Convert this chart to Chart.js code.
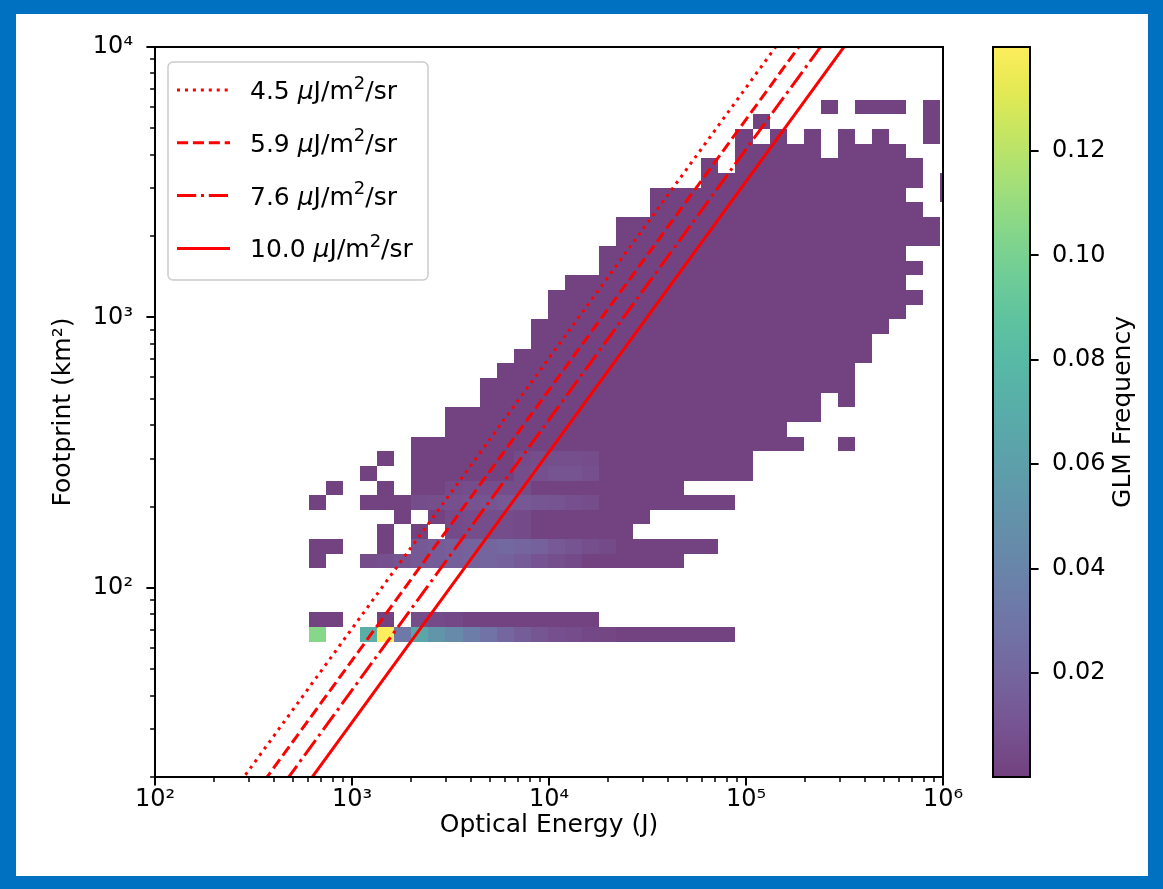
<!DOCTYPE html>
<html>
<head>
<meta charset="utf-8">
<title>GLM flash footprint vs optical energy</title>
<script src="https://cdn.jsdelivr.net/npm/chart.js@4.4.1/dist/chart.umd.min.js"></script>
<style>
  html, body { margin: 0; padding: 0; }
  body { width: 1163px; height: 889px; background: #0070c0; position: relative; overflow: hidden; }
  #panel { position: absolute; left: 16px; top: 14px; width: 1132px; height: 862px; background: #ffffff; }
  #wrap { position: absolute; left: 0; top: 0; width: 1163px; height: 889px; }
  canvas { display: block; }
</style>
</head>
<body>
<div id="panel"></div>
<div id="wrap"><canvas id="chart" width="1163" height="889"></canvas></div>
<script>
// ---- Histogram bins (log-spaced edges) ----
const energyEdges = [605, 738.5, 901.4, 1100, 1343, 1639, 2001, 2443, 2982, 3640, 4443, 5424,
  6621, 8082, 9865, 12042, 14699, 17943, 21903, 26736, 32636, 39838, 48630, 59360, 72461,
  88450, 107970, 131800, 160880, 196380, 239710, 292620, 357190, 436020, 532230, 649680,
  793050, 968050, 1181600];
const footprintEdges = [63.31, 71.72, 81.25, 92.04, 104.3, 118.1, 133.8, 151.6, 171.7, 194.5,
  220.3, 249.6, 282.7, 320.3, 362.8, 411.0, 465.6, 527.5, 597.5, 676.9, 766.8, 868.6, 984.0,
  1115, 1263, 1430, 1620, 1836, 2080, 2356, 2669, 3023, 3424, 3879, 4395, 4978, 5639, 6388];

// Occupied bins: [footprint row, first energy column, last energy column]
const occupiedRuns = [
  [0, 0, 0], [0, 3, 24],
  [1, 0, 1], [1, 4, 4], [1, 6, 16],
  [5, 0, 0], [5, 3, 21],
  [6, 0, 1], [6, 4, 4], [6, 6, 23],
  [7, 4, 4], [7, 6, 6], [7, 8, 18],
  [8, 5, 5], [8, 7, 19],
  [9, 0, 0], [9, 3, 24],
  [10, 1, 1], [10, 4, 4], [10, 6, 21],
  [11, 3, 3], [11, 6, 25],
  [12, 4, 4], [12, 6, 25],
  [13, 6, 28], [13, 31, 31],
  [14, 8, 27],
  [15, 8, 29],
  [16, 10, 29], [16, 31, 31],
  [17, 10, 31],
  [18, 11, 31],
  [19, 12, 32],
  [20, 13, 32],
  [21, 13, 33],
  [22, 14, 34],
  [23, 14, 35],
  [24, 15, 34],
  [25, 17, 35],
  [26, 17, 34],
  [27, 18, 36],
  [28, 18, 36],
  [29, 20, 35],
  [30, 20, 34], [30, 37, 37],
  [31, 23, 35], [31, 37, 37],
  [32, 23, 23], [32, 25, 35],
  [33, 25, 29], [33, 31, 34],
  [34, 25, 25], [34, 27, 27], [34, 29, 29], [34, 31, 31], [34, 33, 33], [34, 36, 36],
  [35, 26, 26], [35, 36, 36],
  [36, 30, 30], [36, 32, 34], [36, 36, 36]
];

// Typical frequency of an occupied bin
const baseFrequency = 0.001;

// Bins with higher frequency: [row, column, frequency]
const frequentBins = [
  [0, 0, 0.105], [0, 3, 0.072], [0, 4, 0.1399], [0, 5, 0.032], [0, 6, 0.066], [0, 7, 0.052],
  [0, 8, 0.043], [0, 9, 0.035], [0, 10, 0.028], [0, 11, 0.021], [0, 12, 0.015], [0, 13, 0.011],
  [0, 14, 0.008], [0, 15, 0.006], [0, 16, 0.004], [0, 17, 0.003],
  [1, 6, 0.006], [1, 7, 0.005], [1, 8, 0.004],
  [5, 3, 0.006], [5, 4, 0.008], [5, 5, 0.010], [5, 6, 0.012], [5, 7, 0.014], [5, 8, 0.016],
  [5, 9, 0.018], [5, 10, 0.020], [5, 11, 0.018], [5, 12, 0.014], [5, 13, 0.010], [5, 14, 0.007],
  [5, 15, 0.005],
  [6, 6, 0.012], [6, 7, 0.014], [6, 8, 0.016], [6, 9, 0.018], [6, 10, 0.020], [6, 11, 0.022],
  [6, 12, 0.020], [6, 13, 0.017], [6, 14, 0.013], [6, 15, 0.010], [6, 16, 0.007], [6, 17, 0.005],
  [7, 8, 0.005], [7, 9, 0.006], [7, 10, 0.006], [7, 11, 0.006], [7, 12, 0.005],
  [8, 8, 0.005], [8, 9, 0.006], [8, 10, 0.006], [8, 11, 0.006], [8, 12, 0.005],
  [9, 6, 0.006], [9, 7, 0.007], [9, 8, 0.008], [9, 9, 0.009], [9, 10, 0.010], [9, 11, 0.012],
  [9, 12, 0.012], [9, 13, 0.011], [9, 14, 0.010], [9, 15, 0.008], [9, 16, 0.006],
  [10, 8, 0.005], [10, 9, 0.006], [10, 10, 0.006], [10, 11, 0.006], [10, 12, 0.006],
  [11, 12, 0.006], [11, 13, 0.008], [11, 14, 0.010], [11, 15, 0.010], [11, 16, 0.008],
  [12, 12, 0.005], [12, 13, 0.006], [12, 14, 0.007], [12, 15, 0.007], [12, 16, 0.006]
];

// Colour-scale limits
const frequencyRange = [0.0001, 0.1399];

// Radiance reference lines (uJ/m^2/sr), E = pi * L * A
const radianceLevels = [4.5, 5.9, 7.6, 10.0];
const lineFootprints = [10, 20000];

// Axis ticks
const xMajorTicks = [1e2, 1e3, 1e4, 1e5, 1e6];
const xTickLabels = ['10\u00B2', '10\u00B3', '10\u2074', '10\u2075', '10\u2076'];
const yMajorTicks = [1e2, 1e3, 1e4];
const yTickLabels = ['10\u00B2', '10\u00B3', '10\u2074'];
const cbTickValues = [0.02, 0.04, 0.06, 0.08, 0.10, 0.12];
const cbTickLabels = ['0.02', '0.04', '0.06', '0.08', '0.10', '0.12'];

// ---- Styling ----
const FONT = "'DejaVu Sans', 'Liberation Sans', sans-serif";
const TICK_SIZE = 24;
const LABEL_SIZE = 25;
const CELL_ALPHA = 0.75;
const LINE_RED = '#ff0000';
const LINE_WIDTH = 3;
const lineDashes = [[3, 4.95], [11.1, 4.8], [19.2, 4.8, 3, 4.8], []];

const VIRIDIS = ['#440154', '#48186a', '#472d7b', '#424086', '#3b528b', '#33638d', '#2c728e',
  '#26828e', '#21918c', '#1fa088', '#28ae80', '#3fbc73', '#5ec962', '#84d44b', '#addc30',
  '#d8e219', '#fde725'];
const viridisRGB = VIRIDIS.map(h => [1, 3, 5].map(i => parseInt(h.slice(i, i + 2), 16)));

function viridis(t) {
  const n = viridisRGB.length - 1;
  const p = Math.min(Math.max(t, 0), 1) * n;
  const i = Math.min(Math.floor(p), n - 1);
  const f = p - i;
  return viridisRGB[i].map((c, j) => Math.round(c + (viridisRGB[i + 1][j] - c) * f));
}
function colourFor(v) {
  const t = (v - frequencyRange[0]) / (frequencyRange[1] - frequencyRange[0]);
  const [r, g, b] = viridis(t);
  return `rgba(${r},${g},${b},${CELL_ALPHA})`;
}

const freqLookup = new Map(frequentBins.map(([r, k, v]) => [r * 100 + k, v]));
function binFrequency(r, k) {
  return freqLookup.has(r * 100 + k) ? freqLookup.get(r * 100 + k) : baseFrequency;
}

function minorTicks(lo, hi) {
  const out = [];
  for (let e = Math.floor(Math.log10(lo)); e <= Math.ceil(Math.log10(hi)); e++) {
    for (let m = 1; m <= 9; m++) {
      const v = m * Math.pow(10, e);
      if (v >= lo * 0.9999 && v <= hi * 1.0001) out.push(v);
    }
  }
  return out;
}

// keep label overhang from pushing the plot area around
function fixedSize(prop, size) {
  return s => {
    s[prop] = size;
    s.paddingTop = 0; s.paddingBottom = 0; s.paddingLeft = 0; s.paddingRight = 0;
  };
}

// ---- Plugins ----
const heatmapPlugin = {
  id: 'heatmap',
  beforeDatasetsDraw(chart) {
    const { ctx, chartArea: a, scales: { x, y } } = chart;
    ctx.save();
    ctx.beginPath();
    ctx.rect(a.left, a.top, a.right - a.left, a.bottom - a.top);
    ctx.clip();
    for (const [r, k0, k1] of occupiedRuns) {
      const yTop = Math.round(y.getPixelForValue(footprintEdges[r + 1]));
      const yBot = Math.round(y.getPixelForValue(footprintEdges[r]));
      for (let k = k0; k <= k1; k++) {
        const xl = Math.round(x.getPixelForValue(energyEdges[k]));
        const xr = Math.round(x.getPixelForValue(energyEdges[k + 1]));
        ctx.fillStyle = colourFor(binFrequency(r, k));
        ctx.fillRect(xl, yTop, xr - xl, yBot - yTop);
      }
    }
    ctx.restore();
  }
};

const framePlugin = {
  id: 'frameAndColourbar',
  afterDatasetsDraw(chart) {
    const { ctx, chartArea: a, scales } = chart;
    ctx.save();
    ctx.strokeStyle = '#000';
    for (const t of scales.x.ticks) {
      const px = Math.round(scales.x.getPixelForValue(t.value));
      const major = xMajorTicks.includes(t.value);
      ctx.lineWidth = major ? 2 : 1.5;
      ctx.beginPath();
      ctx.moveTo(px, a.bottom);
      ctx.lineTo(px, a.bottom + (major ? 8.6 : 4.9));
      ctx.stroke();
    }
    for (const t of scales.y.ticks) {
      const py = Math.round(scales.y.getPixelForValue(t.value));
      const major = yMajorTicks.includes(t.value);
      ctx.lineWidth = major ? 2 : 1.5;
      ctx.beginPath();
      ctx.moveTo(a.left, py);
      ctx.lineTo(a.left - (major ? 8.6 : 4.9), py);
      ctx.stroke();
    }
    ctx.lineWidth = 2;
    ctx.strokeRect(a.left, a.top, a.right - a.left, a.bottom - a.top);

    // colour bar
    const cb = scales.cb;
    const cbLeft = a.right + 50, cbRight = a.right + 87;
    const grad = ctx.createLinearGradient(0, a.bottom, 0, a.top);
    viridisRGB.forEach((c, i) => {
      grad.addColorStop(i / (viridisRGB.length - 1), `rgba(${c[0]},${c[1]},${c[2]},${CELL_ALPHA})`);
    });
    ctx.fillStyle = grad;
    ctx.fillRect(cbLeft, a.top, cbRight - cbLeft, a.bottom - a.top);
    ctx.lineWidth = 2;
    ctx.strokeRect(cbLeft, a.top, cbRight - cbLeft, a.bottom - a.top);
    for (const t of cb.ticks) {
      const py = Math.round(cb.getPixelForValue(t.value));
      ctx.beginPath();
      ctx.moveTo(cbRight, py);
      ctx.lineTo(cbRight + 8.6, py);
      ctx.stroke();
    }
    ctx.fillStyle = '#000';
    ctx.font = `${LABEL_SIZE}px ${FONT}`;
    ctx.textAlign = 'center';
    ctx.textBaseline = 'middle';
    ctx.translate(a.right + 180, (a.top + a.bottom) / 2);
    ctx.rotate(-Math.PI / 2);
    ctx.fillText('GLM Frequency', 0, 0);
    ctx.restore();
  }
};

function drawRadianceLabel(ctx, x, yMid, value) {
  const s = LABEL_SIZE;
  const base = yMid + 0.36 * s;
  const normal = `${s}px ${FONT}`;
  const italic = `italic ${s}px ${FONT}`;
  const small = `${Math.round(s * 0.7)}px ${FONT}`;
  const parts = [
    [value.toFixed(1) + ' ', normal, 0],
    ['\u03BC', italic, 0],
    ['J/m', normal, 0],
    ['2', small, -0.42 * s],
    ['/sr', normal, 0]
  ];
  ctx.textBaseline = 'alphabetic';
  ctx.textAlign = 'left';
  let cx = x;
  for (const [txt, font, dy] of parts) {
    ctx.font = font;
    ctx.fillText(txt, cx, base + dy);
    cx += ctx.measureText(txt).width;
  }
}

const legendPlugin = {
  id: 'radianceLegend',
  afterDraw(chart) {
    const { ctx, chartArea: a } = chart;
    const bx = a.left + 13, by = a.top + 15, bw = 260, bh = 218;
    ctx.save();
    ctx.beginPath();
    ctx.roundRect(bx, by, bw, bh, 5);
    ctx.fillStyle = 'rgba(255,255,255,0.8)';
    ctx.fill();
    ctx.lineWidth = 1.5;
    ctx.strokeStyle = '#cccccc';
    ctx.stroke();
    radianceLevels.forEach((L, i) => {
      const yMid = by + 28 + i * 52.8;
      ctx.strokeStyle = LINE_RED;
      ctx.lineWidth = LINE_WIDTH;
      ctx.setLineDash(lineDashes[i]);
      ctx.lineCap = 'butt';
      ctx.beginPath();
      ctx.moveTo(bx + 9, yMid);
      ctx.lineTo(bx + 62, yMid);
      ctx.stroke();
      ctx.setLineDash([]);
      ctx.fillStyle = '#000';
      drawRadianceLabel(ctx, bx + 82, yMid, L);
    });
    ctx.restore();
  }
};

// ---- Chart ----
Chart.defaults.font.family = FONT;
Chart.defaults.font.size = TICK_SIZE;
Chart.defaults.color = '#000';

const datasets = radianceLevels.map((L, i) => ({
  label: L.toFixed(1) + ' \u03BCJ/m\u00B2/sr',
  data: lineFootprints.map(A => ({ x: Math.PI * L * A, y: A })),
  showLine: true,
  borderColor: LINE_RED,
  backgroundColor: LINE_RED,
  borderWidth: LINE_WIDTH,
  borderDash: lineDashes[i],
  borderCapStyle: 'butt',
  pointRadius: 0,
  pointHoverRadius: 0,
  tension: 0
}));

new Chart(document.getElementById('chart'), {
  type: 'scatter',
  data: { datasets },
  plugins: [heatmapPlugin, framePlugin, legendPlugin],
  options: {
    responsive: false,
    animation: false,
    devicePixelRatio: 1,
    layout: { padding: { left: 0, top: 47, right: 0, bottom: 0 } },
    plugins: { legend: { display: false }, tooltip: { enabled: false } },
    scales: {
      x: {
        type: 'logarithmic',
        position: 'bottom',
        min: 100, max: 1e6,
        grid: { display: false },
        border: { display: false },
        afterBuildTicks: s => { s.ticks = minorTicks(100, 1e6).map(v => ({ value: v })); },
        afterFit: fixedSize('height', 112),
        ticks: {
          autoSkip: false, maxRotation: 0, minRotation: 0, padding: 0,
          callback: v => { const i = xMajorTicks.indexOf(v); return i >= 0 ? xTickLabels[i] : ''; }
        },
        title: { display: true, text: 'Optical Energy (J)', font: { size: LABEL_SIZE }, padding: { top: 0, bottom: 49 } }
      },
      y: {
        type: 'logarithmic',
        position: 'left',
        min: 20, max: 1e4,
        grid: { display: false },
        border: { display: false },
        afterBuildTicks: s => { s.ticks = minorTicks(20, 1e4).map(v => ({ value: v })); },
        afterFit: fixedSize('width', 155),
        ticks: {
          autoSkip: false, padding: 14,
          callback: v => { const i = yMajorTicks.indexOf(v); return i >= 0 ? yTickLabels[i] : ''; }
        },
        title: { display: true, text: 'Footprint (km\u00B2)', font: { size: LABEL_SIZE }, padding: { top: 48, bottom: 0 } }
      },
      cb: {
        type: 'linear',
        axis: 'y',
        position: 'right',
        min: frequencyRange[0], max: frequencyRange[1],
        grid: { display: false },
        border: { display: false },
        afterBuildTicks: s => { s.ticks = cbTickValues.map(v => ({ value: v })); },
        afterFit: fixedSize('width', 220),
        ticks: {
          autoSkip: false, padding: 101,
          callback: v => { const i = cbTickValues.indexOf(v); return i >= 0 ? cbTickLabels[i] : ''; }
        }
      }
    }
  }
});
</script>
</body>
</html>
